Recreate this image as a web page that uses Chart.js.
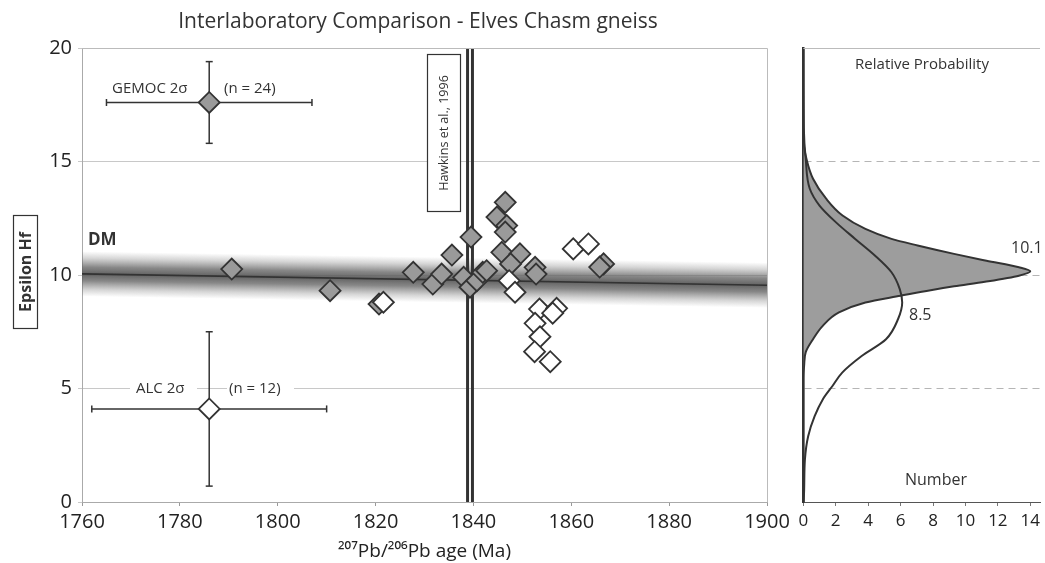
<!DOCTYPE html>
<html>
<head>
<meta charset="utf-8">
<script src="https://cdn.jsdelivr.net/npm/chart.js@4"></script>
<style>
body { margin: 0; background: #fff; }
#wrap { position: relative; width: 1045px; height: 563px; }
.box { position: absolute; top: 0; height: 563px; }
</style>
</head>
<body>
<div id="wrap">
  <div class="box" style="left:0;width:800px"><canvas id="scatter"></canvas></div>
  <div class="box" style="left:790px;width:255px"><canvas id="prob"></canvas></div>
</div>
<script>
/**************************
* Data
**************************/

// GEMOC analyses (grey diamonds), n = 24
var gemocAge = [1790.6, 1810.7, 1820.7, 1827.7, 1831.7, 1833.5, 1835.6, 1839.5, 1838.0, 1839.3, 1840.7, 1841.9,
                1842.7, 1846.5, 1844.8, 1846.8, 1846.5, 1845.8, 1849.5, 1847.6, 1852.6, 1852.8, 1866.6, 1865.8];
var gemocHf = [10.26, 9.31, 8.72, 10.12, 9.6, 10.04, 10.88, 11.67, 9.9, 9.46, 9.75, 10.12,
               10.19, 13.2, 12.55, 12.18, 11.89, 11.0, 10.93, 10.49, 10.34, 10.04, 10.49, 10.35];

// ALC analyses (open diamonds), n = 12
var alcAge = [1821.6, 1847.3, 1848.5, 1853.5, 1857.0, 1856.2, 1852.6, 1853.6, 1852.5, 1855.7, 1860.4, 1863.5];
var alcHf = [8.8, 9.75, 9.24, 8.5, 8.53, 8.32, 7.87, 7.28, 6.62, 6.18, 11.15, 11.37];

// lab 2 sigma reproducibility: [age, epsilon], [age err, epsilon err]
var gemocMean = [1786, 17.6], gemocErr = [21, 1.8];
var alcMean = [1786, 4.1], alcErr = [24, 3.4];

// depleted mantle evolution band
var dmAge = [1760, 1900];
var dmHf = [10.05, 9.55];
var dmHalf = 1.0;

// Hawkins et al., 1996 age (double line)
var hawkinsAge = [1838.8, 1839.8];

// right panel: probability curves, epsilon Hf vs number
var probHf = [0, 5.5, 6.0, 6.6, 7.17, 7.76, 8.35, 8.79, 9.09, 9.3, 9.5, 9.7, 9.97, 10.16,
              10.34, 10.63, 10.93, 11.3, 11.59, 12.03, 12.62, 13.36, 14.24, 15.1, 16, 20];
var probNum = [0, 0, 0.05, 0.15, 0.6, 1.2, 2.2, 3.83, 6.0, 7.6, 9.3, 11.2, 13.3, 14.0,
               13.3, 11.3, 9.3, 7.05, 5.44, 3.83, 2.42, 1.41, 0.6, 0.2, 0, 0];
var alcCurveHf = [0, 0.5, 1.87, 2.9, 3.78, 4.52, 5.11, 5.7, 6.43, 7.17, 8.05, 8.79, 9.38,
                  10.12, 10.85, 11.59, 12.33, 13.06, 13.8, 15.1, 16.5, 20];
var alcCurveNum = [0.02, 0.05, 0.1, 0.3, 0.7, 1.2, 1.8, 2.4, 3.6, 5.1, 5.84, 6.1, 5.95,
                   5.44, 4.43, 3.2, 2.0, 1.0, 0.4, 0.15, 0.03, 0];

// tick labels
var ageTicks = [1760, 1780, 1800, 1820, 1840, 1860, 1880, 1900];
var hfTicks = [0, 5, 10, 15, 20];
var numberTicks = [0, 2, 4, 6, 8, 10, 12, 14];
var probGrid = [5, 10, 15];

/**************************
* Helpers
**************************/
Chart.defaults.font.family = '"Open Sans", sans-serif';
Chart.defaults.color = '#222';

function pts(xs, ys) {
	return xs.map(function (v, i) { return {x: v, y: ys[i]}; });
}
function plain(v) { return String(v); }

var INK = '#333';

function dmGradient(ctx) {
	var chart = ctx.chart;
	if (!chart.chartArea) return 'rgba(0,0,0,0)';
	var sx = chart.scales.x, sy = chart.scales.y;
	var x1 = sx.getPixelForValue(dmAge[0]), x2 = sx.getPixelForValue(dmAge[1]);
	var y1 = sy.getPixelForValue(dmHf[0]), y2 = sy.getPixelForValue(dmHf[1]);
	var k = (y2 - y1) / (x2 - x1);
	var h = sy.getPixelForValue(0) - sy.getPixelForValue(dmHalf);
	var n = Math.sqrt(1 + k * k);
	var xm = (x1 + x2) / 2, ym = (y1 + y2) / 2;
	var g = chart.ctx.createLinearGradient(xm + k / n * h, ym - h / n, xm - k / n * h, ym + h / n);
	g.addColorStop(0, 'rgba(120,120,120,0)');
	g.addColorStop(0.15, 'rgba(120,120,120,0.3)');
	g.addColorStop(0.35, 'rgba(105,105,105,0.8)');
	g.addColorStop(0.5, 'rgba(90,90,90,0.95)');
	g.addColorStop(0.65, 'rgba(105,105,105,0.8)');
	g.addColorStop(0.85, 'rgba(120,120,120,0.3)');
	g.addColorStop(1, 'rgba(120,120,120,0)');
	return g;
}

function errBar(mean, err, horizontal) {
	var d = horizontal
		? [{x: mean[0] - err[0], y: mean[1]}, {x: mean[0] + err[0], y: mean[1]}]
		: [{x: mean[0], y: mean[1] - err[1]}, {x: mean[0], y: mean[1] + err[1]}];
	return {
		type: 'line', data: d, order: 6,
		borderColor: INK, borderWidth: 1.5,
		pointStyle: 'line', pointRadius: 3.5, pointRotation: horizontal ? 90 : 0,
		pointBorderColor: INK, pointBorderWidth: 1.5
	};
}

function vline(age) {
	return {
		type: 'line', data: [{x: age, y: 0}, {x: age, y: 20}], order: 8,
		borderColor: INK, borderWidth: 3, pointRadius: 0
	};
}

/**************************
* Text on the scatter panel
**************************/
var scatterText = {
	id: 'scatterText',
	afterDraw: function (chart) {
		var ctx = chart.ctx, a = chart.chartArea;
		ctx.save();
		// light frame
		ctx.strokeStyle = '#bbb';
		ctx.lineWidth = 1;
		ctx.beginPath();
		ctx.moveTo(a.left, a.top + 0.5); ctx.lineTo(a.right + 0.5, a.top + 0.5); ctx.lineTo(a.right + 0.5, a.bottom);
		ctx.stroke();

		ctx.fillStyle = INK;
		ctx.textBaseline = 'middle';
		ctx.font = '21px "Open Sans"';
		ctx.textAlign = 'center';
		ctx.fillText('Interlaboratory Comparison - Elves Chasm gneiss', 418, 22);

		ctx.textAlign = 'left';
		ctx.font = '15px "Open Sans"';
		ctx.fillText('GEMOC 2\u03c3', 112, 89);
		ctx.fillText('(n = 24)', 224, 89);

		ctx.fillStyle = '#fff';
		ctx.fillRect(130, 380, 67, 18);
		ctx.fillRect(227, 380, 67, 18);
		ctx.fillStyle = INK;
		ctx.fillText('ALC 2\u03c3', 136, 389);
		ctx.fillText('(n = 12)', 229, 389);

		ctx.font = 'bold 17px "Open Sans"';
		ctx.fillText('DM', 88, 240);

		// Hawkins label box
		ctx.fillStyle = '#fff';
		ctx.fillRect(427.5, 54.5, 33, 157);
		ctx.strokeStyle = INK;
		ctx.lineWidth = 1.2;
		ctx.strokeRect(427.5, 54.5, 33, 157);
		ctx.fillStyle = INK;
		ctx.save();
		ctx.translate(444, 133);
		ctx.rotate(-Math.PI / 2);
		ctx.textAlign = 'center';
		ctx.font = '12.5px "Open Sans"';
		ctx.fillText('Hawkins et al., 1996', 0, 0);
		ctx.restore();

		// boxed y axis title
		ctx.strokeRect(13.5, 215.5, 24, 113);
		ctx.translate(26, 272);
		ctx.rotate(-Math.PI / 2);
		ctx.textAlign = 'center';
		ctx.font = 'bold 16px "Open Sans"';
		ctx.fillText('Epsilon Hf', 0, 0);
		ctx.restore();
	}
};

/**************************
* Scatter panel
**************************/
var scatter = new Chart(document.getElementById('scatter'), {
	type: 'scatter',
	data: {
		datasets: [
			{
				type: 'line', data: pts(dmAge, dmHf.map(function (v) { return v + dmHalf; })), order: 20,
				borderWidth: 0, pointRadius: 0, fill: '+1', backgroundColor: dmGradient
			},
			{
				type: 'line', data: pts(dmAge, dmHf.map(function (v) { return v - dmHalf; })), order: 21,
				borderWidth: 0, pointRadius: 0, fill: false
			},
			{
				type: 'line', data: pts(dmAge, dmHf), order: 10,
				borderColor: '#333', borderWidth: 1.6, pointRadius: 0
			},
			vline(hawkinsAge[0]),
			vline(hawkinsAge[1]),
			errBar(gemocMean, gemocErr, true),
			errBar(gemocMean, gemocErr, false),
			errBar(alcMean, alcErr, true),
			errBar(alcMean, alcErr, false),
			{
				label: 'GEMOC', data: pts(gemocAge, gemocHf), order: 3,
				pointStyle: 'rectRot', pointRadius: 10.5,
				backgroundColor: '#9a9a9a', borderColor: INK, borderWidth: 1.8
			},
			{
				label: 'ALC', data: pts(alcAge, alcHf), order: 2,
				pointStyle: 'rectRot', pointRadius: 10.5,
				backgroundColor: '#fff', borderColor: INK, borderWidth: 1.8
			},
			{
				data: [{x: gemocMean[0], y: gemocMean[1]}], order: 1,
				pointStyle: 'rectRot', pointRadius: 10.5,
				backgroundColor: '#9a9a9a', borderColor: INK, borderWidth: 1.8
			},
			{
				data: [{x: alcMean[0], y: alcMean[1]}], order: 1,
				pointStyle: 'rectRot', pointRadius: 10.5,
				backgroundColor: '#fff', borderColor: INK, borderWidth: 1.8
			}
		]
	},
	options: {
		responsive: true, maintainAspectRatio: false, animation: false,
		layout: {padding: {top: 48, right: 33, left: 0, bottom: 0}},
		plugins: {legend: {display: false}, tooltip: {enabled: false}},
		scales: {
			x: {
				type: 'linear', min: 1760, max: 1900,
				afterBuildTicks: function (s) { s.ticks = ageTicks.map(function (v) { return {value: v}; }); },
				afterFit: function (s) { s.height = 61; },
				grid: {drawOnChartArea: false, tickLength: 4, color: '#999'},
				border: {color: '#aaa'},
				ticks: {font: {size: 20}, color: '#222', padding: 4, maxRotation: 0, callback: plain},
				title: {display: true, text: '\u00b2\u2070\u2077Pb/\u00b2\u2070\u2076Pb age (Ma)', font: {size: 19}, color: '#222', padding: 0}
			},
			y: {
				min: 0, max: 20,
				afterBuildTicks: function (s) { s.ticks = hfTicks.map(function (v) { return {value: v}; }); },
				afterFit: function (s) { s.width = 82; },
				grid: {color: '#c8c8c8', tickLength: 4},
				border: {color: '#aaa'},
				ticks: {font: {size: 20}, color: '#222', padding: 6, callback: plain}
			}
		}
	},
	plugins: [scatterText]
});

/**************************
* Probability panel
**************************/
var probText = {
	id: 'probText',
	afterDraw: function (chart) {
		var ctx = chart.ctx, a = chart.chartArea;
		ctx.save();
		ctx.strokeStyle = '#bbb';
		ctx.lineWidth = 1;
		ctx.beginPath();
		ctx.moveTo(a.left, a.top + 0.5); ctx.lineTo(a.right, a.top + 0.5);
		ctx.stroke();
		ctx.fillStyle = INK;
		ctx.textBaseline = 'middle';
		ctx.textAlign = 'center';
		ctx.font = '15px "Open Sans"';
		ctx.fillText('Relative Probability', 132, 65);
		ctx.font = '16px "Open Sans"';
		ctx.fillText('Number', 146, 480);
		ctx.textAlign = 'left';
		ctx.font = '16px "Open Sans"';
		ctx.fillText('10.1', 221, 248);
		ctx.fillText('8.5', 119, 315);
		ctx.restore();
	}
};

var prob = new Chart(document.getElementById('prob'), {
	type: 'line',
	data: {
		datasets: [
			{
				data: pts(probNum, probHf), order: 2,
				borderColor: INK, borderWidth: 2, pointRadius: 0,
				backgroundColor: '#9d9d9d', fill: 'origin',
				cubicInterpolationMode: 'monotone'
			},
			{
				data: pts(alcCurveNum, alcCurveHf), order: 1,
				borderColor: INK, borderWidth: 2, pointRadius: 0, fill: false,
				cubicInterpolationMode: 'monotone'
			}
		]
	},
	options: {
		indexAxis: 'y',
		responsive: true, maintainAspectRatio: false, animation: false,
		layout: {padding: {top: 48, right: 0, left: 0, bottom: 0}},
		plugins: {legend: {display: false}, tooltip: {enabled: false}},
		scales: {
			x: {
				type: 'linear', min: 0, max: 14.6,
				afterBuildTicks: function (s) { s.ticks = numberTicks.map(function (v) { return {value: v}; }); },
				afterFit: function (s) { s.height = 61; },
				grid: {drawOnChartArea: false, tickLength: 4, color: '#777'},
				border: {color: '#555'},
				ticks: {font: {size: 17}, color: '#222', padding: 5, maxRotation: 0}
			},
			y: {
				type: 'linear', min: 0, max: 20,
				afterBuildTicks: function (s) { s.ticks = probGrid.map(function (v) { return {value: v}; }); },
				afterFit: function (s) { s.width = 13.3; },
				grid: {color: '#b5b5b5', drawTicks: false},
				border: {color: INK, width: 2.5, dash: [7, 5]},
				ticks: {display: false}
			}
		}
	},
	plugins: [probText]
});
</script>
</body>
</html>
